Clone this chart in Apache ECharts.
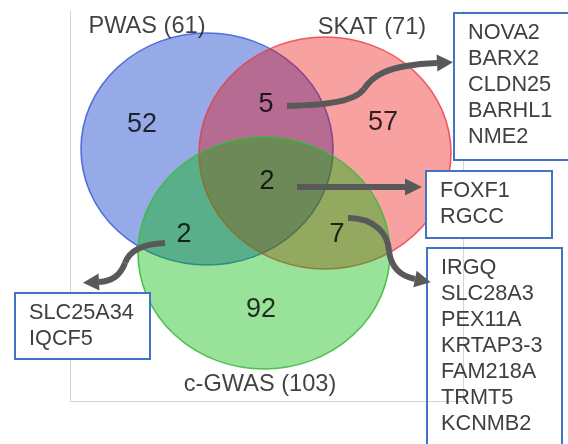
<!DOCTYPE html>
<html>
<head>
<meta charset="utf-8">
<script src="https://cdn.jsdelivr.net/npm/echarts@6/dist/echarts.min.js"></script>
<style>
html,body{margin:0;padding:0;background:#fff;}
#chart{width:568px;height:444px;}
</style>
</head>
<body>
<div id="chart"></div>
<script>
// ---------- DATA ----------
const setNames = ['PWAS', 'SKAT', 'c-GWAS'];
const setTotals = [61, 71, 103];
const regionNames = ['PWAS only', 'SKAT only', 'c-GWAS only', 'PWAS & SKAT', 'all three', 'PWAS & c-GWAS', 'SKAT & c-GWAS'];
const regionCounts = [52, 57, 92, 5, 2, 2, 7];
const genesPwasSkat = ['NOVA2', 'BARX2', 'CLDN25', 'BARHL1', 'NME2'];
const genesAllThree = ['FOXF1', 'RGCC'];
const genesPwasGwas = ['SLC25A34', 'IQCF5'];
const genesSkatGwas = ['IRGQ', 'SLC28A3', 'PEX11A', 'KRTAP3-3', 'FAM218A', 'TRMT5', 'KCNMB2'];

// ---------- LAYOUT (chart coordinates) ----------
const circleCenters = [[207, 149], [325, 153], [264, 253]];
const circleRadius = [126, 116];
const circleFill = ['rgba(47,85,209,0.5)', 'rgba(233,0,0,0.37)', 'rgba(0,182,0,0.4)'];
const circleStroke = ['rgba(60,95,215,0.85)', 'rgba(235,60,65,0.8)', 'rgba(60,185,60,0.85)'];
const setLabelPos = [[147, 26], [372, 27], [260, 384]];
const regionPos = [[142, 125], [383, 123], [261, 310], [266, 105], [267, 182], [184, 235], [337, 235]];

const FONT = '"Liberation Sans", Arial, Helvetica, sans-serif';
const chart = echarts.init(document.getElementById('chart'));

// ---------- annotation graphics ----------
const ARROW = '#595959';
// segs: list of [x1,y1,cpx1,cpy1,cpx2,cpy2,x2,y2]
function arrow(segs, dir, len, half) {
  const out = segs.map(s => ({
    type: 'bezierCurve', z: 100,
    shape: { x1: s[0], y1: s[1], cpx1: s[2], cpy1: s[3], cpx2: s[4], cpy2: s[5], x2: s[6], y2: s[7] },
    style: { fill: null, stroke: ARROW, lineWidth: 6, lineCap: 'butt' }
  }));
  const last = segs[segs.length - 1];
  const end = [last[6], last[7]];
  const n = Math.hypot(dir[0], dir[1]);
  const ux = dir[0] / n, uy = dir[1] / n;
  const tip = [end[0] + ux * len, end[1] + uy * len];
  const b1 = [end[0] - uy * half, end[1] + ux * half];
  const b2 = [end[0] + uy * half, end[1] - ux * half];
  out.push({ type: 'polygon', z: 100, shape: { points: [tip, b1, b2] }, style: { fill: ARROW } });
  return out;
}
function box(x, y, w, h, genes, filled) {
  return [
    { type: 'rect', z: 90, shape: { x: x, y: y, width: w, height: h },
      style: { fill: filled ? '#fff' : null, stroke: '#4472C4', lineWidth: 2 } },
    { type: 'text', z: 91, x: x + 14, y: y + 7,
      style: { text: genes.join('\n'), font: '21.7px ' + FONT, fill: '#404040',
               lineHeight: 26, verticalAlign: 'top', align: 'left' } }
  ];
}

const graphics = [].concat(
  arrow([[287, 106, 330, 105, 355, 101, 364, 89], [364, 89, 372, 77, 385, 65, 437, 63]], [1, -0.05], 16, 8.5),
  arrow([[297, 187, 330, 187, 370, 187, 405, 187]], [1, 0], 17, 8.5),
  arrow([[348, 218, 375, 218, 388, 234, 389, 251], [389, 251, 391, 267, 400, 276, 415, 279]], [1, 0.2], 16, 8.5),
  arrow([[165, 243, 140, 244, 129, 252, 125, 263], [125, 263, 120, 276, 112, 281, 99, 282]], [-1, 0.05], 16, 8.5),
  box(454, 13, 130, 147, genesPwasSkat, true),
  box(426, 171, 126, 67, genesAllThree, true),
  box(427, 248, 135, 220, genesSkatGwas, false),
  box(15, 293, 135, 66, genesPwasGwas, true)
);

const axisLineStyle = { show: true, lineStyle: { color: '#d4d4d4', width: 1 } };

chart.setOption({
  animation: false,
  backgroundColor: '#fff',
  grid: { left: 70, right: 105, top: 11, bottom: 43, show: false },
  xAxis: { type: 'value', min: 70, max: 463, position: 'bottom',
           axisLine: Object.assign({ onZero: false }, axisLineStyle),
           axisTick: { show: false }, axisLabel: { show: false }, splitLine: { show: false } },
  yAxis: [
    { type: 'value', min: 11, max: 401, inverse: true, position: 'left',
      axisLine: Object.assign({ onZero: false }, axisLineStyle),
      axisTick: { show: false }, axisLabel: { show: false }, splitLine: { show: false } },
    { type: 'value', min: 11, max: 401, inverse: true, position: 'right',
      axisLine: Object.assign({ onZero: false }, axisLineStyle),
      axisTick: { show: false }, axisLabel: { show: false }, splitLine: { show: false } }
  ],
  graphic: graphics,
  series: [
    {
      type: 'custom', name: 'sets', clip: false, z: 2,
      data: setNames.map((n, i) => ({ name: n, value: [circleCenters[i][0], circleCenters[i][1], setTotals[i]] })),
      renderItem: function (params, api) {
        const i = params.dataIndex;
        const c = api.coord([api.value(0), api.value(1)]);
        const s = api.size([circleRadius[0], circleRadius[1]]);
        return {
          type: 'circle',
          x: c[0], y: c[1],
          scaleX: s[0] / s[1], scaleY: 1,
          shape: { cx: 0, cy: 0, r: s[1] },
          style: { fill: circleFill[i], stroke: circleStroke[i], lineWidth: 1.5 }
        };
      }
    },
    {
      type: 'scatter', name: 'set labels', z: 5, symbolSize: 0, silent: true,
      data: setNames.map((n, i) => ({ name: n, value: [setLabelPos[i][0], setLabelPos[i][1], setTotals[i]] })),
      label: { show: true, position: 'inside', color: '#111', fontSize: 23.6, fontFamily: FONT,
               formatter: p => p.name + ' (' + p.value[2] + ')' }
    },
    {
      type: 'scatter', name: 'region counts', z: 5, symbolSize: 0, silent: true,
      data: regionNames.map((n, i) => ({ name: n, value: [regionPos[i][0], regionPos[i][1], regionCounts[i]] })),
      label: { show: true, position: 'inside', color: '#000', fontSize: 27, fontFamily: FONT,
               formatter: p => String(p.value[2]) }
    }
  ]
});
</script>
</body>
</html>
